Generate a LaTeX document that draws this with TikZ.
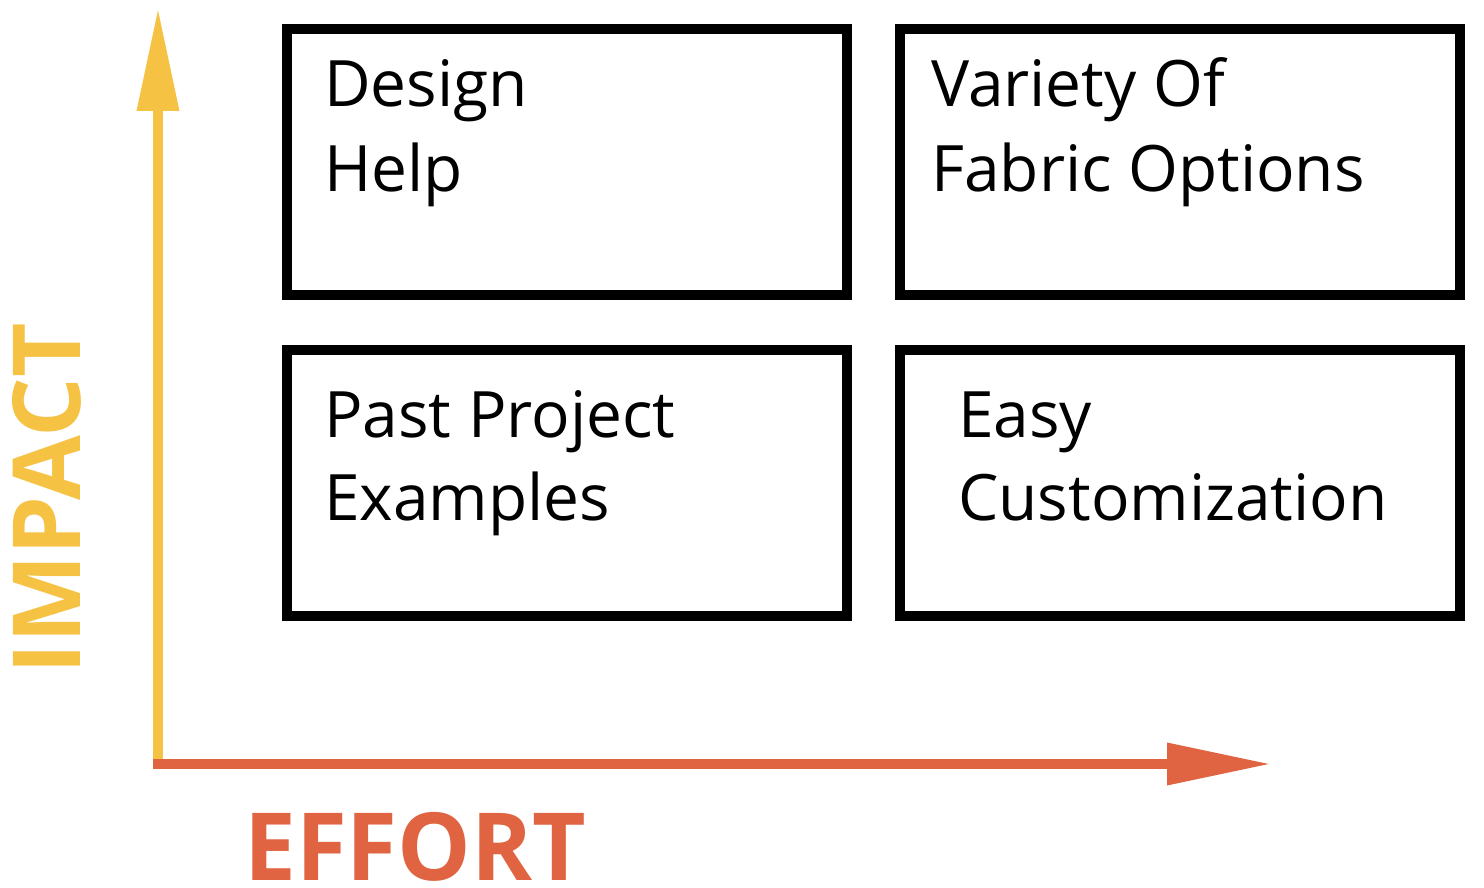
\documentclass[tikz,border=0pt]{standalone}
\usepackage{fontspec}
\setmainfont{Open Sans}
\usetikzlibrary{arrows.meta}
\definecolor{impactyellow}{HTML}{F5C244}
\definecolor{effortorange}{HTML}{E06442}
\tikzset{
  quadbox/.style={draw=black, line width=10pt, minimum width=560pt, minimum height=266pt, inner sep=0pt},
  boxtext/.style={anchor=base west, inner sep=0pt, font=\fontsize{64pt}{85pt}\selectfont},
  axislabel/.style={anchor=base west, inner sep=0pt, text depth=0pt, font=\fontsize{94pt}{110pt}\selectfont\bfseries},
  yaxis/.style={draw=impactyellow, line width=10pt, -{Triangle[length=103pt,width=40pt]}},
  xaxis/.style={draw=effortorange, line width=10pt, -{Triangle[length=104pt,width=40pt]}}
}
\begin{document}
\begin{tikzpicture}[x=1pt,y=-1pt]
\useasboundingbox (0,0) rectangle (1484,888);
% axes
\coordinate (ybot) at (158,764);
\coordinate (ytip) at (158,8);
\coordinate (xstart) at (153,764);
\coordinate (xtip) at (1271,764);
\draw[yaxis] (ybot) -- (ytip);
\draw[xaxis] (xstart) -- (xtip);
% boxes
\node[quadbox] (tl) at (567,162) {};
\node[quadbox] (tr) at (1180,162) {};
\node[quadbox] (bl) at (567,483) {};
\node[quadbox] (br) at (1180,483) {};
% texts
\node[boxtext] (tla) at (324,107) {Design};
\node[boxtext] (tlb) at (324,192) {Help};
\node[boxtext] (tra) at (931,107) {Variety Of};
\node[boxtext] (trb) at (931,192) {Fabric Options};
\node[boxtext] (bla) at (324,437) {Past Project};
\node[boxtext] (blb) at (324,520) {Examples};
\node[boxtext] (bra) at (958,437) {Easy};
\node[boxtext] (brb) at (958,520) {Customization};
% axis labels
\node[axislabel, text=effortorange] (effort) at (244,880) {\scalebox{0.985}[1]{EFFORT}};
\node[axislabel, text=impactyellow, rotate=90] (impact) at (80,675) {IMPACT};
\end{tikzpicture}
\end{document}
